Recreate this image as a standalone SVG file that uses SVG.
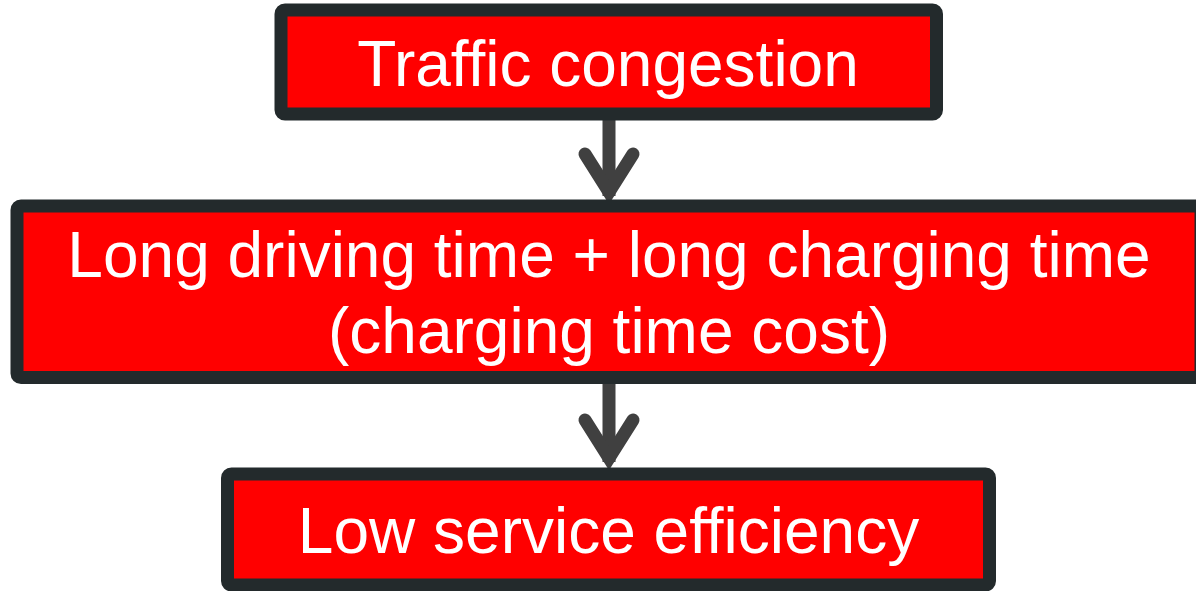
<svg xmlns="http://www.w3.org/2000/svg" width="1196" height="591" viewBox="0 0 1196 591">
<style>
.box{fill:#ff0000;stroke:#232a2c;stroke-width:13}
.lbl{font-family:"Liberation Sans",Arial,sans-serif;font-size:64px;fill:#ffffff;text-anchor:middle}
.shaft{stroke:#404040;stroke-width:13;fill:none}
.head{stroke:#404040;stroke-width:13;fill:none;stroke-linecap:round;stroke-linejoin:miter;stroke-miterlimit:10}
</style>
<rect width="1196" height="591" fill="#ffffff"/>
<g id="connectors">
<line class="shaft" x1="609" y1="114" x2="609" y2="196"/>
<polyline class="head" points="585,154 609,192 633,154"/>
<line class="shaft" x1="609" y1="377" x2="609" y2="462"/>
<polyline class="head" points="585,420 609,458 633,420"/>
</g>
<g id="node-traffic">
<rect class="box" x="281" y="10" width="655.5" height="104" rx="4"/>
<text class="lbl" x="608" y="86">Traffic congestion</text>
</g>
<g id="node-long">
<rect class="box" x="17" y="206" width="1184" height="171.5" rx="4"/>
<text class="lbl" x="609" y="277">Long driving time + long charging time</text>
<text class="lbl" x="609" y="353">(charging time cost)</text>
</g>
<g id="node-low">
<rect class="box" x="227.5" y="474" width="762" height="111" rx="4"/>
<text class="lbl" x="608.5" y="553">Low service efficiency</text>
</g>
</svg>
